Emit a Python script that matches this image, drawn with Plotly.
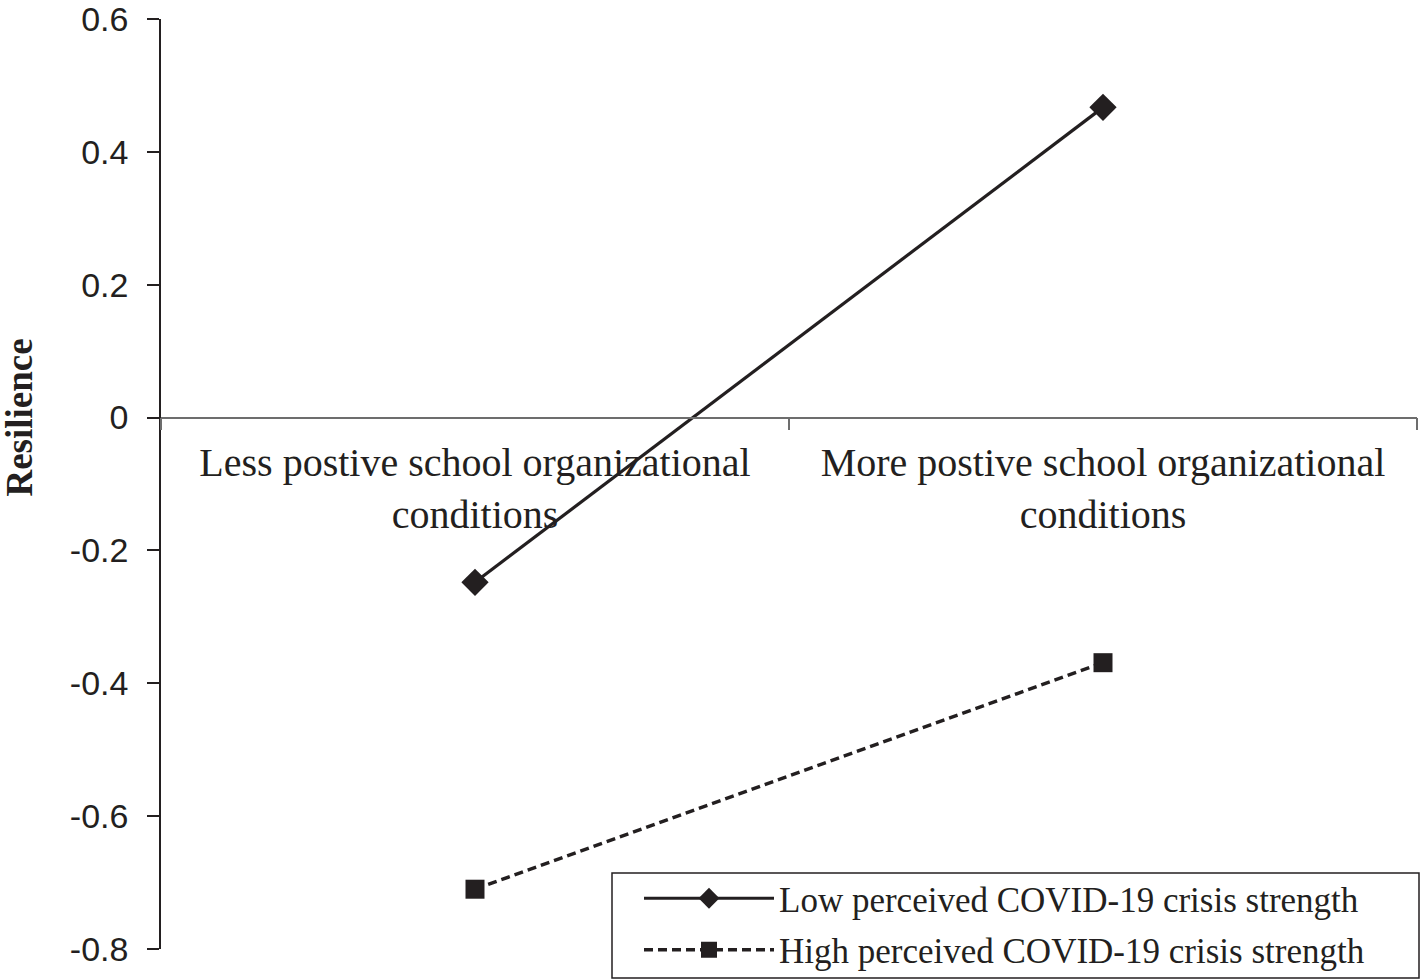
import plotly.graph_objects as go

# conditions on the x axis
categories = ["Less postive school organizational conditions",
              "More postive school organizational conditions"]
category_labels = ["Less postive school organizational<br>conditions",
                   "More postive school organizational<br>conditions"]

# resilience per group
low_crisis = [-0.248, 0.467]
high_crisis = [-0.71, -0.369]

y_ticks = [0.6, 0.4, 0.2, 0, -0.2, -0.4, -0.6, -0.8]
y_tick_labels = ["0.6", "0.4", "0.2", "0", "-0.2", "-0.4", "-0.6", "-0.8"]

ink = "#231f20"
serif = "Liberation Serif, Times New Roman, serif"
sans = "Liberation Sans, Arial, sans-serif"

fig = go.Figure()

fig.add_trace(go.Scatter(
    x=categories, y=low_crisis,
    mode="lines+markers",
    name="Low perceived COVID-19 crisis strength",
    legendgroup="low",
    line=dict(color=ink, width=3.2),
    marker=dict(symbol="diamond", size=21, color=ink),
))

fig.add_trace(go.Scatter(
    x=categories, y=high_crisis,
    mode="lines+markers",
    name="High perceived COVID-19 crisis strength",
    legendgroup="high",
    line=dict(color=ink, width=3.4, dash="9px,5px"),
    marker=dict(symbol="square", size=19, color=ink),
))

y_min, y_max = -0.8, 0.6
zero_pos = (0 - y_min) / (y_max - y_min)

plot_l, plot_w = 161, 1256

# legend frame (plotly legend box is drawn without border, framed by this)
fig.add_shape(type="rect", xref="paper", yref="paper",
              x0=(612 - plot_l) / plot_w, x1=(1419 - plot_l) / plot_w,
              y0=(949 - 978) / 930, y1=(949 - 873) / 930,
              line=dict(color=ink, width=1.5), fillcolor="rgba(0,0,0,0)",
              layer="above")

# y-axis title, centred on the zero line as in the original
fig.add_annotation(text="<b>Resilience</b>", textangle=-90,
                   xref="paper", x=(20 - plot_l) / plot_w, xanchor="center",
                   yref="y", y=0, yanchor="middle", showarrow=False,
                   font=dict(family=serif, size=37, color=ink))

fig.update_layout(
    width=1421, height=979,
    margin=dict(l=161, r=4, t=19, b=30, autoexpand=False),
    paper_bgcolor="white", plot_bgcolor="white",
    showlegend=True,
    legend=dict(
        x=(639 - plot_l) / plot_w, y=(949 - 869) / 930,
        xanchor="left", yanchor="top",
        borderwidth=0,
        bgcolor="rgba(0,0,0,0)",
        font=dict(family=serif, size=35, color=ink),
        tracegroupgap=3, itemwidth=130,
    ),
    xaxis=dict(
        type="category",
        categoryorder="array", categoryarray=categories,
        range=[-0.5, 1.5],
        tickvals=categories, ticktext=category_labels,
        tickson="boundaries",
        anchor="free", position=zero_pos,
        showline=True, linecolor="#6d6d6d", linewidth=1.5,
        ticks="outside", ticklen=12, tickcolor="#6d6d6d", tickwidth=1.5,
        showgrid=False, zeroline=False,
        tickfont=dict(family=serif, size=40, color=ink),
        ticklabelstandoff=10,
    ),
    yaxis=dict(
        range=[y_min, y_max],
        tickvals=y_ticks, ticktext=y_tick_labels,
        showline=True, linecolor=ink, linewidth=1.5,
        ticks="outside", ticklen=12, tickcolor=ink, tickwidth=1.5,
        showgrid=False, zeroline=False,
        tickfont=dict(family=sans, size=34, color=ink),
        ticklabelstandoff=12,
        ticklabeloverflow="allow",
    ),
)

# drop the browser's default body margin so the figure sits at the page corner
fig.write_html("out.html", config={"displayModeBar": False},
               post_script="document.body.style.margin = '0';")
